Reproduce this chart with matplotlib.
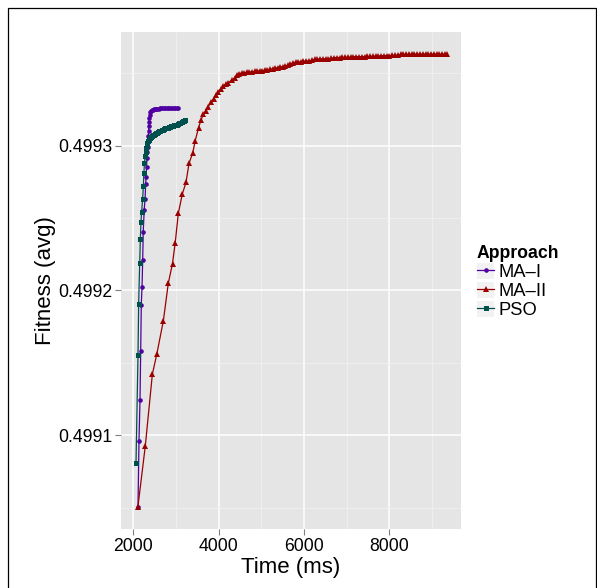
import numpy as np
import matplotlib
matplotlib.use('Agg')
import matplotlib.pyplot as plt
from matplotlib.lines import Line2D
from matplotlib.patches import Rectangle
from matplotlib.legend_handler import HandlerTuple

plt.rcParams['font.family'] = ['Liberation Sans', 'DejaVu Sans']

# MA-I
ma1_time = [2110, 2133, 2157, 2173, 2187, 2204, 2220, 2232, 2255, 2275, 2290, 2298,
            2310, 2322, 2332, 2340, 2346, 2352, 2358, 2364, 2370, 2376, 2384, 2398,
            2415, 2435, 2458, 2482, 2507, 2533, 2560, 2590, 2620, 2650, 2680, 2712,
            2745, 2778, 2812, 2846, 2880, 2915, 2950, 2985, 3020, 3043]
ma1_fit = [0.4990506, 0.4990963, 0.4991241, 0.4991581, 0.4991903, 0.4992023, 0.4992212,
           0.4992402, 0.4992557, 0.4992632, 0.4992736, 0.4992781, 0.4992855, 0.4992919,
           0.4992959, 0.4992995, 0.4993030, 0.4993065, 0.4993100, 0.4993135, 0.4993165,
           0.4993190, 0.4993215, 0.4993232, 0.4993240, 0.4993245, 0.4993248, 0.4993251,
           0.4993253, 0.4993255, 0.4993256, 0.4993257, 0.4993258, 0.4993259, 0.4993259,
           0.4993260, 0.4993260, 0.4993261, 0.4993261, 0.4993261, 0.4993262, 0.4993262,
           0.4993262, 0.4993262, 0.4993262, 0.4993262]

# MA-II
ma2_time = [2107, 2281, 2446, 2553, 2704, 2820, 2918, 2981, 3054, 3148, 3234, 3304,
            3391, 3450, 3527, 3582, 3639, 3702, 3756, 3813, 3880, 3935, 3990, 4050,
            4108, 4165, 4225, 4300, 4382, 4440, 4480, 4540, 4600, 4660, 4720, 4780,
            4840, 4900, 4960, 5020, 5080, 5140, 5200, 5260, 5320, 5380, 5440, 5500,
            5560, 5620, 5680, 5740, 5800, 5860, 5920, 5985, 6050, 6115, 6180, 6245,
            6310, 6375, 6440, 6505, 6570, 6635, 6700, 6765, 6830, 6895, 6960, 7025,
            7090, 7155, 7220, 7285, 7350, 7415, 7480, 7545, 7610, 7675, 7740, 7805,
            7870, 7935, 8000, 8065, 8130, 8195, 8260, 8325, 8390, 8455, 8520, 8585,
            8650, 8715, 8780, 8845, 8910, 8975, 9040, 9105, 9170, 9235, 9300, 9345]
ma2_fit = [0.4990503, 0.4990926, 0.4991421, 0.4991564, 0.4991791, 0.4992051, 0.4992186,
           0.4992329, 0.4992533, 0.4992667, 0.4992747, 0.4992878, 0.4992950, 0.4993035,
           0.4993125, 0.4993175, 0.4993217, 0.4993242, 0.4993270, 0.4993300, 0.4993325,
           0.4993350, 0.4993370, 0.4993395, 0.4993414, 0.4993425, 0.4993437, 0.4993452,
           0.4993471, 0.4993490, 0.4993499, 0.4993503, 0.4993506, 0.4993508, 0.4993510,
           0.4993512, 0.4993514, 0.4993516, 0.4993518, 0.4993520, 0.4993523, 0.4993526,
           0.4993529, 0.4993532, 0.4993536, 0.4993540, 0.4993544, 0.4993548, 0.4993551,
           0.4993555, 0.4993565, 0.4993574, 0.4993577, 0.4993580, 0.4993582, 0.4993584,
           0.4993586, 0.4993588, 0.4993590, 0.4993597, 0.4993599, 0.4993600, 0.4993601,
           0.4993602, 0.4993603, 0.4993604, 0.4993609, 0.4993610, 0.4993610, 0.4993611,
           0.4993611, 0.4993612, 0.4993612, 0.4993615, 0.4993616, 0.4993616, 0.4993617,
           0.4993617, 0.4993618, 0.4993618, 0.4993619, 0.4993619, 0.4993620, 0.4993623,
           0.4993623, 0.4993624, 0.4993624, 0.4993625, 0.4993625, 0.4993626, 0.4993632,
           0.4993632, 0.4993633, 0.4993633, 0.4993633, 0.4993633, 0.4993634, 0.4993634,
           0.4993634, 0.4993634, 0.4993634, 0.4993634, 0.4993634, 0.4993634, 0.4993634,
           0.4993634, 0.4993634, 0.4993634]

# PSO
pso_time = [2063, 2110, 2125, 2150, 2165, 2180, 2195, 2220, 2235, 2248, 2262, 2278,
            2292, 2305, 2318, 2332, 2348, 2366, 2386, 2408, 2432, 2456, 2480, 2505,
            2530, 2556, 2582, 2608, 2635, 2662, 2690, 2718, 2746, 2775, 2804, 2833,
            2862, 2892, 2922, 2952, 2982, 3012, 3042, 3072, 3102, 3132, 3162, 3192, 3215]
pso_fit = [0.4990805, 0.4991552, 0.4991908, 0.4992191, 0.4992357, 0.4992476, 0.4992545,
           0.4992635, 0.4992724, 0.4992812, 0.4992881, 0.4992931, 0.4992960, 0.4992985,
           0.4993005, 0.4993020, 0.4993032, 0.4993043, 0.4993052, 0.4993060, 0.4993066,
           0.4993072, 0.4993077, 0.4993082, 0.4993086, 0.4993091, 0.4993095, 0.4993099,
           0.4993103, 0.4993108, 0.4993112, 0.4993116, 0.4993120, 0.4993123, 0.4993125,
           0.4993128, 0.4993131, 0.4993135, 0.4993138, 0.4993141, 0.4993144, 0.4993147,
           0.4993150, 0.4993155, 0.4993160, 0.4993165, 0.4993170, 0.4993173, 0.4993175]

labels = ['MA–I', 'MA–II', 'PSO']
colors = ['#5000A0', '#9B0000', '#00504D']
markers = ['o', '^', 's']
msizes = [3.3, 4.3, 3.6]

fig = plt.figure(figsize=(5.97, 5.88), dpi=100)
ax = fig.add_axes([0.2027, 0.0997, 0.5688, 0.8460])
ax.set_facecolor('#E5E5E5')

series = [(ma1_time, ma1_fit), (ma2_time, ma2_fit), (pso_time, pso_fit)]
for (t, f), lab, c, m, ms in zip(series, labels, colors, markers, msizes):
    ax.plot(t, f, color=c, marker=m, markersize=ms, linewidth=0.9,
            markeredgewidth=0, label=lab, zorder=3)

ax.set_xlim(1712, 9665)
ax.set_ylim(0.4990349, 0.4993787)
ax.set_xticks([2000, 4000, 6000, 8000])
ax.set_xticks([3000, 5000, 7000, 9000], minor=True)
ax.set_yticks([0.4991, 0.4992, 0.4993])
ax.set_yticks([0.49905, 0.49915, 0.49925, 0.49935], minor=True)
ax.set_yticklabels(['0.4991', '0.4992', '0.4993'])
ax.grid(which='major', color='white', linewidth=1.1)
ax.grid(which='minor', color='#F2F2F2', linewidth=0.5)
ax.set_axisbelow(True)
for s in ax.spines.values():
    s.set_visible(False)
ax.tick_params(which='major', length=4, width=0.8, color='#7F7F7F',
               labelsize=12.7, labelcolor='black', pad=2)
ax.tick_params(which='minor', length=0)

ax.set_xlabel('Time (ms)', fontsize=16, labelpad=2)
ax.set_ylabel('Fitness (avg)', fontsize=16, labelpad=2)

# legend with grey key boxes
handles = []
for c, m, ms in zip(colors, markers, msizes):
    box = Rectangle((0, 0), 1, 1, facecolor='#F2F2F2', edgecolor='none')
    ln = Line2D([0], [0], color=c, marker=m, markersize=ms, linewidth=0.9,
                markeredgewidth=0)
    handles.append((box, ln))
leg = fig.legend(handles, labels, title='Approach', loc='upper left',
                 bbox_to_anchor=(0.799, 0.584), frameon=False, fontsize=13.2,
                 title_fontsize=12.7, handlelength=0.95, handleheight=0.98,
                 handletextpad=0.2, labelspacing=0.05, borderaxespad=0,
                 borderpad=0,
                 handler_map={tuple: HandlerTuple(ndivide=1, pad=0)})
leg.get_title().set_fontweight('bold')
leg._legend_box.align = 'left'

# outer frame
fig.patches.append(Rectangle((8 / 597, -0.02), 588 / 597, 1 - 8 / 588 + 0.02,
                             transform=fig.transFigure, fill=False,
                             edgecolor='black', linewidth=0.9))

fig.savefig('out.png', dpi=100)
